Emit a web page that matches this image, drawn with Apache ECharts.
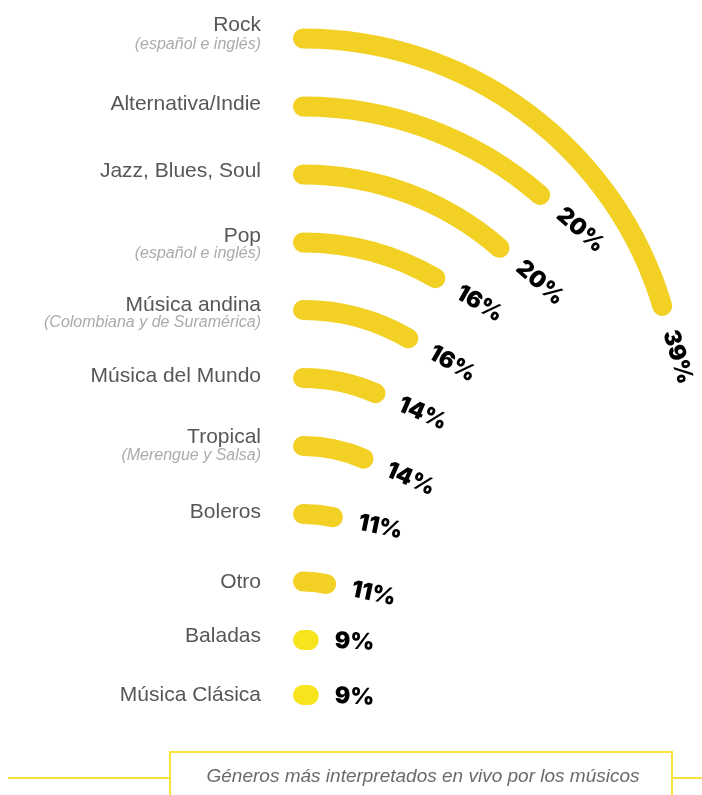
<!DOCTYPE html>
<html><head><meta charset="utf-8">
<script src="https://cdn.jsdelivr.net/npm/echarts@6/dist/echarts.min.js"></script>
<style>html,body{margin:0;padding:0;background:#fff}#c{width:702px;height:795px}</style>
</head><body><div id="c"></div>
<script>
// ---- data ----
const genres = ['Rock','Alternativa/Indie','Jazz, Blues, Soul','Pop','Música andina','Música del Mundo','Tropical','Boleros','Otro','Baladas','Música Clásica'];
const notes = ['(español e inglés)','','','(español e inglés)','(Colombiana y de Suramérica)','','(Merengue y Salsa)','','','',''];
const shares = [39,20,20,16,16,14,14,11,11,9,9];
const caption = 'Géneros más interpretados en vivo por los músicos';

// ---- layout (pixels) ----
const startX = 303;
const rowY  = [38.5,106.5,174.5,242.5,310,378,446,514,581.5,640,695];
const arcR  = [375,362,300,264,210,181,151,145,112,150,150];
const nameY = [25.5,104.5,171,236,305,376,437,512.5,582.5,636.5,695];
const noteY = [45,0,0,254,323,0,456,0,0,0,0];
const nameX = 261;
const ANG_MIN = 8.6, ANG_MAX = 14400;
const arcColor = '#F2D024', dotColor = '#F8E41D';
const minShare = Math.min.apply(null, shares);

const polar = [], angleAxis = [], radiusAxis = [], series = [];
genres.forEach(function (g, i) {
  polar.push({ center: [startX, rowY[i] + arcR[i]], radius: [arcR[i] - 10, arcR[i] + 10] });
  angleAxis.push({ polarIndex: i, type: 'log', min: ANG_MIN, max: ANG_MAX, startAngle: 90, clockwise: true, show: false });
  radiusAxis.push({ polarIndex: i, type: 'category', data: [g], show: false });
  series.push({
    type: 'custom', coordinateSystem: 'polar', polarIndex: i,
    data: [[0, shares[i]]], encode: { radius: 0, angle: 1 },
    silent: true,
    renderItem: function (params, api) {
      const cs = params.coordSys;
      const v = api.value(1);
      const p0 = api.coord([0, ANG_MIN]);
      const p1 = api.coord([0, v]);
      const a0 = Math.atan2(p0[1] - cs.cy, p0[0] - cs.cx);
      const a1 = Math.atan2(p1[1] - cs.cy, p1[0] - cs.cx);
      const r = Math.hypot(p1[0] - cs.cx, p1[1] - cs.cy);
      const tx = -Math.sin(a1), ty = Math.cos(a1);
      const gap = 26;
      return {
        type: 'group',
        children: [
          { type: 'arc', shape: { cx: cs.cx, cy: cs.cy, r: r, startAngle: a0, endAngle: a1, clockwise: true },
            style: { stroke: v === minShare ? dotColor : arcColor, lineWidth: 20, lineCap: 'round', fill: 'none' } },
          { type: 'text', x: p1[0] + tx * gap, y: p1[1] + ty * gap, rotation: -(a1 + Math.PI / 2),
            style: { text: v + '%', fill: '#000', font: '900 23px Inter, "DejaVu Sans", sans-serif',
                     align: 'left', textAlign: 'left', verticalAlign: 'middle', textVerticalAlign: 'middle' } }
        ]
      };
    }
  });
});

const graphic = [];
genres.forEach(function (g, i) {
  graphic.push({ type: 'text', x: nameX, y: nameY[i],
    style: { text: g, fill: '#575757', font: '21px "Liberation Sans", Arial, sans-serif', align: 'right', verticalAlign: 'middle' } });
  if (notes[i]) {
    graphic.push({ type: 'text', x: nameX, y: noteY[i],
      style: { text: notes[i], fill: '#ababab', font: 'italic 16px "Liberation Sans", Arial, sans-serif', align: 'right', verticalAlign: 'middle' } });
  }
});
const boxStroke = '#F6E43A';
graphic.push({ type: 'line', shape: { x1: 8, y1: 778, x2: 170, y2: 778 }, style: { stroke: boxStroke, lineWidth: 2 } });
graphic.push({ type: 'line', shape: { x1: 672, y1: 778, x2: 702, y2: 778 }, style: { stroke: boxStroke, lineWidth: 2 } });
graphic.push({ type: 'rect', shape: { x: 170, y: 752, width: 502, height: 80 }, style: { stroke: boxStroke, lineWidth: 2, fill: 'none' } });
graphic.push({ type: 'text', x: 423, y: 777,
  style: { text: caption, fill: '#6a6a6a', font: 'italic 19px "Liberation Sans", Arial, sans-serif', align: 'center', verticalAlign: 'middle' } });

const chart = echarts.init(document.getElementById('c'), null, { renderer: 'canvas' });
chart.setOption({
  animation: false,
  backgroundColor: '#fff',
  polar: polar, angleAxis: angleAxis, radiusAxis: radiusAxis,
  series: series,
  graphic: graphic
});
</script></body></html>
